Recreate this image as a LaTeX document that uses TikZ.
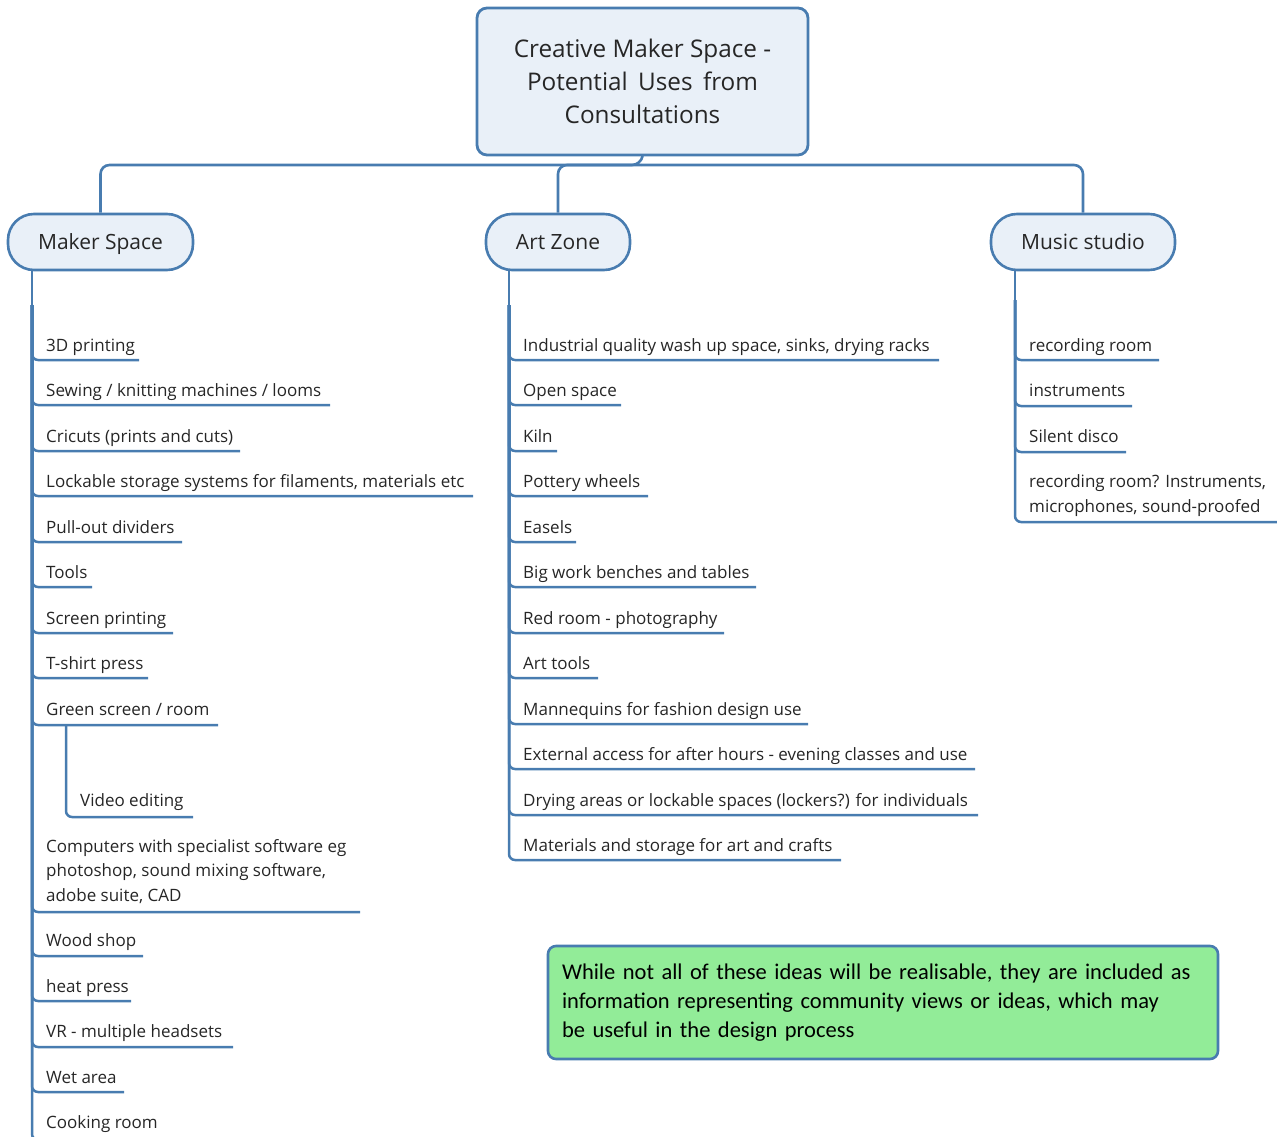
\documentclass[tikz,border=0pt]{standalone}
\usepackage{fontspec}
\setmainfont{Open Sans}
\newfontfamily\notefnt{Carlito}
\definecolor{lineblue}{RGB}{72,124,176}
\definecolor{nodefill}{RGB}{233,240,248}
\definecolor{notegreen}{RGB}{146,236,152}
\definecolor{txt}{RGB}{38,38,38}
\tikzset{
  conn/.style={draw=lineblue, line width=2.5pt, rounded corners=6pt},
  busline/.style={draw=lineblue, line width=2.6pt, rounded corners=9pt},
  thin/.style={draw=lineblue, line width=1.6pt},
  itm/.style={anchor=base west, inner sep=0pt, text=txt, font=\fontsize{17}{24.5}\selectfont},
  mitm/.style={itm, align=left},
  branch/.style={draw=lineblue, fill=nodefill, line width=2.6pt, rounded corners=26pt,
    minimum height=56pt, inner sep=0pt, text height=16pt, text depth=1pt, text=txt,
    font=\fontsize{21}{24}\selectfont},
}
\begin{document}
\begin{tikzpicture}[x=1pt, y=-1pt]
\useasboundingbox (0,0) rectangle (1277,1137);

% root
\node[draw=lineblue, fill=nodefill, line width=2.8pt, rounded corners=10pt,
  minimum width=331pt, minimum height=147pt, inner sep=0pt, align=center, text=txt,
  font=\fontsize{24.3}{33}\selectfont] (root) at (642.5,81.5)
  {Creative Maker Space -\\Potential\, Uses\, from\\Consultations};

% branches
\node[branch, minimum width=185pt] (ms) at (100.5,242) {Maker Space};
\node[branch, minimum width=144pt] (az) at (558,242) {Art Zone};
\node[branch, minimum width=184pt] (mu) at (1083,242) {Music studio};

\coordinate (bus) at (641,165);
\draw[busline] (root.south) -- (bus) -| (ms.north);
\draw[busline] (bus) -| (az.north);
\draw[busline] (bus) -| (mu.north);

% trunks
\coordinate (mt) at (32,305);
\coordinate (at) at (509,305);
\coordinate (ut) at (1015,300);
\draw[thin] (ms.south -| mt) -- (mt);
\draw[thin] (az.south -| at) -- (at);
\draw[thin] (mu.south -| ut) -- (ut);

% Maker Space items
\node[itm] (m1) at (46,351) {3D printing};
\node[itm] (m2) at (46,396) {Sewing / knitting machines / looms};
\node[itm] (m3) at (46,442) {Cricuts (prints and cuts)};
\node[itm] (m4) at (46,487) {Lockable storage systems for filaments, materials etc};
\node[itm] (m5) at (46,533) {Pull-out dividers};
\node[itm] (m6) at (46,578) {Tools};
\node[itm] (m7) at (46,624) {Screen printing};
\node[itm] (m8) at (46,669) {T-shirt press};
\node[itm] (m9) at (46,715) {Green screen / room};
\node[itm] (m10) at (80,806) {Video editing};
\node[mitm] (m11) at (46,901) {Computers with specialist software eg\\photoshop, sound mixing software,\\adobe suite, CAD};
\node[itm] (m12) at (46,946) {Wood shop};
\node[itm] (m13) at (46,992) {heat press};
\node[itm] (m14) at (46,1037) {VR - multiple headsets};
\node[itm] (m15) at (46,1083) {Wet area};
\node[itm] (m16) at (46,1128) {Cooking room};

\coordinate (um1) at (139,360);
\coordinate (um2) at (330,405);
\coordinate (um3) at (240,451);
\coordinate (um4) at (473,496);
\coordinate (um5) at (182,542);
\coordinate (um6) at (92,587);
\coordinate (um7) at (173,633);
\coordinate (um8) at (148,678);
\coordinate (um9) at (218,725);
\coordinate (gs) at (66,725);
\coordinate (um10) at (193,817);
\coordinate (um11) at (360,912);
\coordinate (um12) at (143,956);
\coordinate (um13) at (131,1001);
\coordinate (um14) at (233,1047);
\coordinate (um15) at (124,1092);
\coordinate (um16) at (170,1140);

\foreach \u in {um1,um2,um3,um4,um5,um6,um7,um8,um9,um11,um12,um13,um14,um15,um16}
  \draw[conn] (mt) |- (\u);
\draw[conn] (gs) |- (um10);

% Art Zone items
\node[itm] (a1) at (523,351) {Industrial quality wash up space, sinks, drying racks};
\node[itm] (a2) at (523,396) {Open space};
\node[itm] (a3) at (523,442) {Kiln};
\node[itm] (a4) at (523,487) {Pottery wheels};
\node[itm] (a5) at (523,533) {Easels};
\node[itm] (a6) at (523,578) {Big work benches and tables};
\node[itm] (a7) at (523,624) {Red room - photography};
\node[itm] (a8) at (523,669) {Art tools};
\node[itm] (a9) at (523,715) {Mannequins for fashion design use};
\node[itm] (a10) at (523,760) {External access for after hours - evening classes and use};
\node[itm] (a11) at (523,806) {Drying areas or lockable spaces (lockers?) for individuals};
\node[itm] (a12) at (523,851) {Materials and storage for art and crafts};

\coordinate (ua1) at (939,360);
\coordinate (ua2) at (621,405);
\coordinate (ua3) at (557,451);
\coordinate (ua4) at (648,496);
\coordinate (ua5) at (576,542);
\coordinate (ua6) at (756,587);
\coordinate (ua7) at (724,633);
\coordinate (ua8) at (598,678);
\coordinate (ua9) at (808,724);
\coordinate (ua10) at (975,769);
\coordinate (ua11) at (978,815);
\coordinate (ua12) at (841,860);
\foreach \u in {ua1,ua2,ua3,ua4,ua5,ua6,ua7,ua8,ua9,ua10,ua11,ua12}
  \draw[conn] (at) |- (\u);

% Music studio items
\node[itm] (s1) at (1029,351) {recording room};
\node[itm] (s2) at (1029,396) {instruments};
\node[itm] (s3) at (1029,442) {Silent disco};
\node[mitm] (s4) at (1029,512) {recording room? Instruments,\\microphones, sound-proofed};

\coordinate (us1) at (1159,360);
\coordinate (us2) at (1132,406);
\coordinate (us3) at (1126,452);
\coordinate (us4) at (1280,522);
\foreach \u in {us1,us2,us3,us4}
  \draw[conn] (ut) |- (\u);

% note
\node[draw=lineblue, fill=notegreen, line width=2.6pt, rounded corners=8pt,
  minimum width=670pt, minimum height=113pt, inner xsep=14pt, inner ysep=0pt,
  text width=642pt, align=left, text=black,
  font=\notefnt\fontsize{22.5}{29}\selectfont] (note) at (883,1002.5)
  {While not all of these ideas will be realisable, they are included as\\information representing community views or ideas, which may\\be useful in the design process};
\end{tikzpicture}
\end{document}
